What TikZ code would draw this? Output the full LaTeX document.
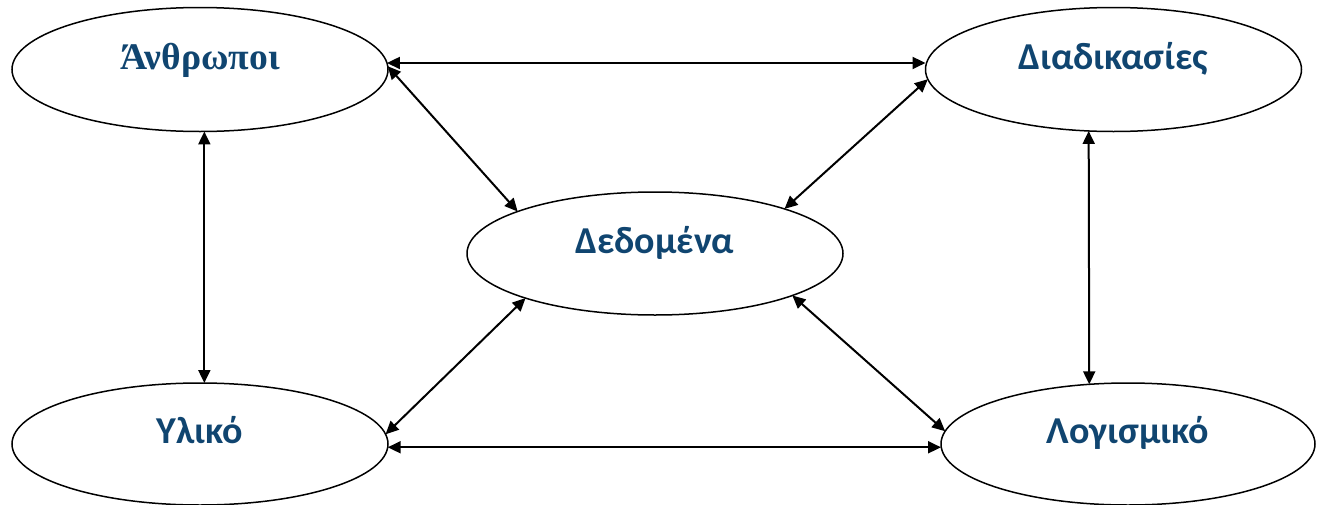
\documentclass[tikz,border=0pt]{standalone}
\usepackage{fontspec}
\usetikzlibrary{shapes.geometric,arrows.meta}
\newfontfamily\carlitofont{Carlito}
\newfontfamily\serifgreek{Liberation Serif}
\definecolor{textblue}{HTML}{104570}
\tikzset{
  ent/.style={ellipse, draw=black, line width=0.75pt, inner sep=0pt, outer sep=0pt,
    minimum width=188pt, minimum height=62pt, text=textblue,
    font=\carlitofont\bfseries\fontsize{19}{19}\selectfont,
    text height=9pt, text depth=9.3pt},
  link/.style={>={Triangle[length=6.5pt,width=6pt]}, <->, line width=1pt, black}
}
\begin{document}
\begin{tikzpicture}[x=0.5pt,y=-0.5pt]
\useasboundingbox (0,0) rectangle (1324,504);
\node[ent, font=\serifgreek\bfseries\fontsize{18.8}{18.8}\selectfont] (A) at (200,69.5) {Άνθρωποι};
\node[ent] (D) at (1113.5,69.5) {Διαδικασίες};
\node[ent, minimum height=61.5pt] (E) at (655,253.5) {Δεδομένα};
\node[ent, minimum height=61pt] (Y) at (200,444) {Υλικό};
\node[ent, minimum width=187pt, minimum height=61pt] (L) at (1128,444) {Λογισμικό};
\draw[link] (A.2.3) -- (A.2.3 -| D.west);
\draw[link] (A.-86) -- (A.-86 |- Y.north);
\draw[link] (D.-112.4) -- (L.123.9);
\draw[link] (Y.-1.2) -- (Y.-1.2 -| L.west);
\draw[link] (A.1) -- (E.163.3);
\draw[link] (D.-177.7) -- (E.19.3);
\draw[link] (Y.3.4) -- (E.-161.3);
\draw[link] (L.176.4) -- (E.-17.6);
\end{tikzpicture}
\end{document}
